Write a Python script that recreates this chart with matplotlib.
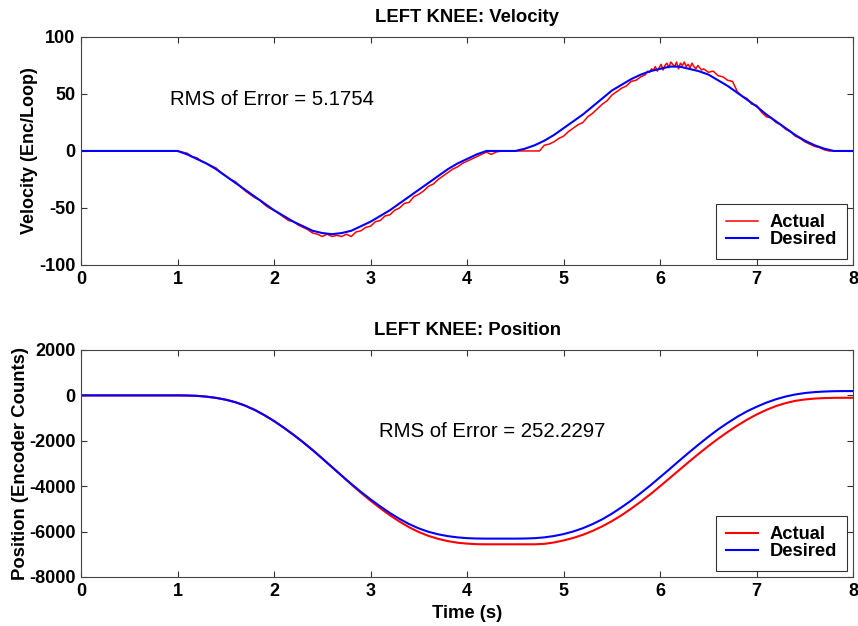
import numpy as np
import matplotlib
matplotlib.use("Agg")
import matplotlib.pyplot as plt

plt.rcParams['font.family'] = ['Liberation Sans', 'DejaVu Sans']
plt.rcParams['axes.unicode_minus'] = False

# ---------------- data ----------------
# desired velocity, 0.1 s grid
vel_des_t = [0.0, 1.0, 1.1, 1.2, 1.3, 1.4, 1.5, 1.6, 1.7, 1.8, 1.9, 2.0, 2.1, 2.2, 2.3, 2.4,
             2.5, 2.6, 2.7, 2.8, 2.9, 3.0, 3.1, 3.2, 3.3, 3.4, 3.5, 3.6, 3.7, 3.8, 3.9, 4.0,
             4.1, 4.2, 4.5, 4.6, 4.7, 4.8, 4.9, 5.0, 5.1, 5.2, 5.3, 5.4, 5.5, 5.6, 5.7, 5.8,
             5.9, 6.0, 6.1, 6.2, 6.3, 6.4, 6.5, 6.6, 6.7, 6.8, 6.9, 7.0, 7.1, 7.2, 7.3, 7.4,
             7.5, 7.6, 7.7, 7.8, 8.0]
vel_des = [0, 0, -3, -7, -11, -16, -22, -28, -34, -40, -46, -52, -57, -62, -66, -70,
           -72, -73, -72, -70, -66, -62, -57, -52, -46, -40, -34, -28, -22, -16, -11, -7,
           -3, 0, 0, 2, 5, 9, 14, 20, 26, 32, 39, 46, 53, 58, 63, 67,
           70, 72, 74, 74, 72, 70, 67, 62, 57, 51, 45, 39, 32, 26, 20, 14,
           9, 5, 2, 0, 0]

# actual velocity, piece A: 1.00 .. 5.80 every 0.05 s
vel_act_a = [0, -1, -2, -5, -6, -9, -11, -13, -15, -19, -22, -25, -27, -31, -35, -38,
             -41, -43, -47, -50, -52, -55, -58, -61, -62, -65, -67, -69, -72, -73, -75, -73,
             -75, -74, -75, -73, -75, -71, -70, -67, -66, -62, -61, -57, -56, -52, -50, -46,
             -45, -40, -38, -35, -31, -29, -25, -22, -19, -16, -14, -11, -9, -7, -5, -3,
             -1, -3, -1, 0, 0, 0, 0, 0, 0, 0, 0, 0, 5, 6, 8, 11,
             13, 17, 20, 23, 25, 30, 33, 37, 41, 44, 49, 52, 55, 57, 61, 62,
             65, 67]
# piece B: 5.85 .. 6.43 every 0.02 s (noisy peak)
vel_act_b = [68, 70, 69, 72, 71, 74, 70, 73, 76, 71, 75, 77, 73, 78, 76, 74,
             78, 72, 77, 75, 78, 74, 76, 73, 77, 74, 72, 75, 73, 71]
# piece C: 6.45 .. 7.80 every 0.05 s
vel_act_c = [72, 69, 70, 66, 65, 62, 61, 52, 48, 46, 41, 40, 34, 30, 29, 25,
             23, 19, 17, 13, 11, 8, 6, 4, 3, 1, 0, 0]

# position, 0.1 s grid from 1.0 to 8.0
pos_t = np.round(np.arange(1.0, 8.05, 0.1), 2)
pos_des = [0, -5, -20, -55, -110, -190, -300, -450, -640, -870, -1130, -1420, -1730, -2060, -2410, -2780,
           -3155, -3530, -3900, -4250, -4580, -4890, -5180, -5440, -5670, -5860, -6010, -6120, -6200, -6255, -6290, -6305,
           -6310, -6310, -6310, -6310, -6305, -6290, -6255, -6195, -6110, -5995, -5850, -5670, -5460, -5210, -4930, -4630,
           -4300, -3960, -3600, -3240, -2870, -2510, -2160, -1820, -1500, -1210, -940, -700, -500, -320, -170, -50,
           40, 105, 145, 170, 185, 190, 190]
pos_act = [0, -5, -20, -55, -110, -190, -300, -450, -640, -870, -1130, -1420, -1730, -2060, -2410, -2780,
           -3160, -3540, -3920, -4290, -4640, -4970, -5280, -5560, -5810, -6020, -6190, -6320, -6420, -6490, -6530, -6555,
           -6560, -6560, -6560, -6560, -6560, -6560, -6540, -6480, -6390, -6280, -6140, -5970, -5770, -5540, -5280, -4990,
           -4680, -4350, -4000, -3640, -3280, -2920, -2570, -2230, -1910, -1610, -1330, -1070, -840, -640, -470, -340,
           -240, -180, -140, -118, -108, -105, -105]

rms_vel = "RMS of Error = 5.1754"
rms_pos = "RMS of Error = 252.2297"

# ---------------- assemble actual velocity time axis ----------------
t_a = 1.0 + 0.05 * np.arange(len(vel_act_a))
t_b = 5.85 + 0.02 * np.arange(len(vel_act_b))
t_c = 6.45 + 0.05 * np.arange(len(vel_act_c))
vel_act_t = np.concatenate([[0.0], t_a, t_b, t_c, [8.0]])
vel_act = np.concatenate([[0], vel_act_a, vel_act_b, vel_act_c, [0]])

pos_t_full = np.concatenate([[0.0], pos_t])
pos_des_full = np.concatenate([[0], pos_des])
pos_act_full = np.concatenate([[0], pos_act])

# ---------------- figure ----------------
fig = plt.figure(figsize=(8.58, 6.26), dpi=100)
ax1 = fig.add_axes([0.0944, 0.5767, 0.9, 0.3643])
ax2 = fig.add_axes([0.0944, 0.0783, 0.9, 0.3626])

def style(ax):
    ax.set_xlim(0, 8)
    ax.set_xticks(range(0, 9))
    ax.tick_params(direction='in', length=4.5, width=0.8, top=True, right=True,
                   labelsize=13, pad=4, colors='#333333', labelcolor='black')
    for lab in ax.get_xticklabels() + ax.get_yticklabels():
        lab.set_fontweight('bold')
    for s in ax.spines.values():
        s.set_color('#444444')
        s.set_linewidth(0.8)

def add_legend(ax):
    leg = ax.legend(loc='lower right', prop={'weight': 'bold', 'size': 13.2},
                    frameon=True, fancybox=False, edgecolor='black', handlelength=1.75,
                    borderaxespad=0.35, labelspacing=0.02, handletextpad=0.6,
                    borderpad=0.55)
    leg.get_frame().set_linewidth(0.8)

ax1.plot(vel_act_t, vel_act, color='#ff0000', lw=1.1, label='Actual')
ax1.plot(vel_des_t, vel_des, color='#0000ff', lw=1.5, label='Desired')
ax1.set_ylim(-100, 100)
ax1.set_yticks([-100, -50, 0, 50, 100])
style(ax1)
ax1.set_title('LEFT KNEE: Velocity', fontsize=13.3, fontweight='bold', pad=11)
ax1.set_ylabel('Velocity (Enc/Loop)', fontsize=13, fontweight='bold', labelpad=1)
ax1.text(0.92, 40, rms_vel, fontsize=14.7, va='baseline')
add_legend(ax1)

ax2.plot(pos_t_full, pos_act_full, color='#ff0000', lw=1.5, label='Actual')
ax2.plot(pos_t_full, pos_des_full, color='#0000ff', lw=1.5, label='Desired')
ax2.set_ylim(-8000, 2000)
ax2.set_yticks([-8000, -6000, -4000, -2000, 0, 2000])
style(ax2)
ax2.set_title('LEFT KNEE: Position', fontsize=13.3, fontweight='bold', pad=11)
ax2.set_ylabel('Position (Encoder Counts)', fontsize=13.3, fontweight='bold', labelpad=0)
ax2.set_xlabel('Time (s)', fontsize=13.2, fontweight='bold', labelpad=4)
ax2.text(3.09, -1830, rms_pos, fontsize=14.7, va='baseline')
add_legend(ax2)

fig.savefig('out.png', dpi=100, facecolor='white')
